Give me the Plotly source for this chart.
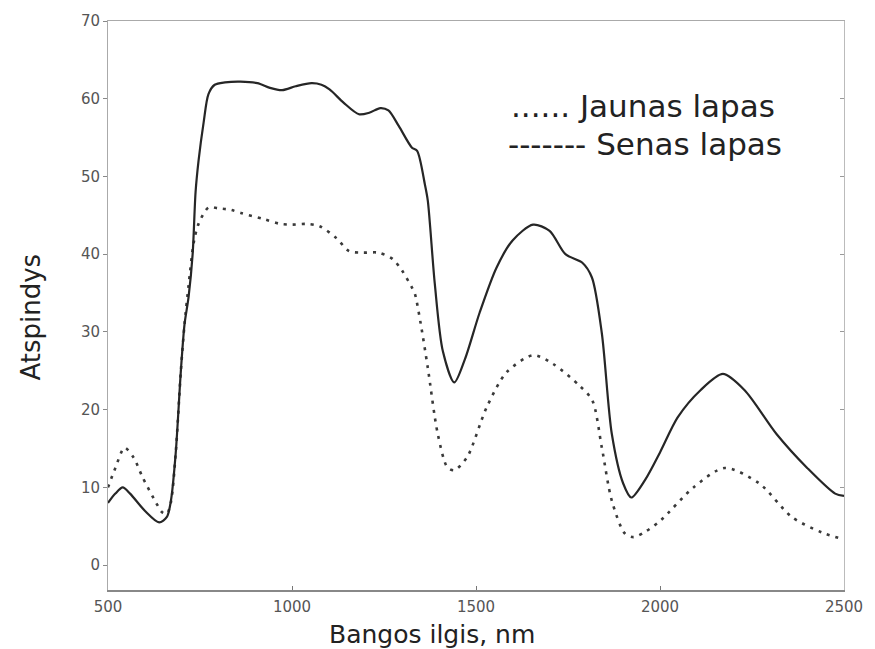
import plotly.graph_objects as go

# Wavelength (nm) and reflectance (%)
senas_x = [500, 520, 540, 560, 600, 639, 660, 671, 684, 698, 708, 719, 730, 738, 746, 760, 773, 790,
           818, 860, 906, 940, 973, 1010, 1053, 1080, 1102, 1140, 1182, 1210, 1240, 1262, 1290, 1326,
           1340, 1361, 1369, 1388, 1410, 1441, 1470, 1510, 1556, 1600, 1655, 1700, 1743, 1789, 1815,
           1842, 1869, 1900, 1922, 1960, 2000, 2048, 2110, 2171, 2230, 2316, 2400, 2476, 2500]
senas_y = [8.0, 9.2, 10.0, 9.2, 7.0, 5.5, 6.2, 8.3, 14.4, 25.0, 31.0, 34.5, 40.0, 48.0, 52.0, 57.0, 60.6, 61.8,
           62.1, 62.2, 62.0, 61.4, 61.1, 61.6, 62.0, 61.8, 61.2, 59.5, 58.0, 58.2, 58.8, 58.5, 56.5, 53.7,
           53.3, 49.0, 46.9, 36.2, 27.5, 23.5, 26.5, 32.5, 38.3, 41.8, 43.8, 43.0, 40.0, 38.9, 37.0,
           29.8, 16.9, 10.5, 8.7, 11.0, 14.5, 19.0, 22.5, 24.6, 22.5, 16.9, 12.5, 9.2, 8.9]

jaunas_x = [500, 520, 545, 570, 594, 631, 647, 660, 671, 684, 698, 708, 719, 733, 746, 773, 800, 834,
            861, 925, 968, 1000, 1040, 1075, 1120, 1155, 1193, 1235, 1273, 1299, 1326, 1334, 1350, 1369,
            1396, 1422, 1441, 1476, 1529, 1583, 1655, 1709, 1781, 1816, 1842, 1869, 1904, 1928, 1960,
            2003, 2091, 2176, 2270, 2358, 2440, 2500]
jaunas_y = [10.0, 12.5, 15.1, 13.8, 11.3, 8.0, 6.8, 6.6, 8.1, 14.4, 25.0, 31.0, 36.0, 41.5, 43.9, 46.0, 45.9, 45.7,
            45.3, 44.5, 43.9, 43.8, 43.9, 43.6, 42.1, 40.4, 40.2, 40.2, 39.4, 37.9, 35.7, 34.9, 31.0, 25.4,
            16.9, 12.6, 12.2, 13.9, 20.3, 24.8, 27.0, 25.9, 23.1, 21.2, 15.1, 8.3, 4.1, 3.6, 4.3,
            5.8, 10.0, 12.5, 10.5, 6.2, 4.2, 3.3]

x_ticks = [500, 1000, 1500, 2000, 2500]
y_ticks = [0, 10, 20, 30, 40, 50, 60, 70]

legend_labels = ["...... Jaunas lapas", "------- Senas lapas"]
x_title = "Bangos ilgis, nm"
y_title = "Atspindys"

fig = go.Figure()
fig.add_trace(go.Scatter(x=jaunas_x, y=jaunas_y, mode="lines", name="Jaunas lapas",
                         line=dict(color="#3a3a3a", width=2.6, dash="3px,6px", shape="spline", smoothing=0.8)))
fig.add_trace(go.Scatter(x=senas_x, y=senas_y, mode="lines", name="Senas lapas",
                         line=dict(color="#262626", width=2.2, shape="spline", smoothing=0.8)))

tickfont = dict(family="DejaVu Sans", size=15, color="#555555")
fig.update_layout(
    width=875, height=649,
    margin=dict(l=108, r=22, t=20, b=59),
    paper_bgcolor="white", plot_bgcolor="white",
    showlegend=False,
    xaxis=dict(range=[500, 2500], tickvals=x_ticks, ticktext=[str(v) for v in x_ticks],
               ticks="inside", ticklen=4, tickcolor="#777", showline=True, linecolor="#888",
               linewidth=1.5, mirror=False, showgrid=False, zeroline=False, tickfont=tickfont,
               ticklabelstandoff=2, ticklabeloverflow="allow"),
    yaxis=dict(range=[-3.2, 70], tickvals=y_ticks, ticktext=[str(v) for v in y_ticks],
               ticks="outside", ticklen=4, tickcolor="#888", showline=True, linecolor="#aaa",
               linewidth=1, mirror=False, showgrid=False, zeroline=False, tickfont=tickfont),
    yaxis2=dict(range=[-3.2, 70], tickvals=y_ticks[1:], overlaying="y", side="right",
                ticks="inside", ticklen=4, tickcolor="#999", showline=True, linecolor="#bbb",
                linewidth=1, showticklabels=False, showgrid=False, zeroline=False),
    xaxis2=dict(range=[500, 2500], overlaying="x", side="top", showline=True, linecolor="#aaa",
                linewidth=1, showticklabels=False, ticks="", showgrid=False, zeroline=False),
)
# invisible trace to activate the mirror axes
fig.add_trace(go.Scatter(x=[None], y=[None], xaxis="x2", yaxis="y2", showlegend=False, hoverinfo="skip"))

legend_font = dict(family="DejaVu Sans", size=31, color="#222")
fig.add_annotation(text=legend_labels[0], xref="paper", yref="paper", x=0.545, y=0.851,
                   xanchor="left", yanchor="middle", showarrow=False, font=legend_font)
fig.add_annotation(text=legend_labels[1], xref="paper", yref="paper", x=0.541, y=0.784,
                   xanchor="left", yanchor="middle", showarrow=False, font=legend_font)
fig.add_annotation(text=x_title, xref="paper", yref="paper", x=0.44, y=-0.079,
                   xanchor="center", yanchor="middle", showarrow=False,
                   font=dict(family="DejaVu Sans", size=25, color="#222"))
fig.add_annotation(text=y_title, xref="paper", yref="paper", x=-0.105, y=0.48,
                   xanchor="center", yanchor="middle", showarrow=False, textangle=-90,
                   font=dict(family="DejaVu Sans", size=26, color="#222"))

fig.write_html("out.html")
